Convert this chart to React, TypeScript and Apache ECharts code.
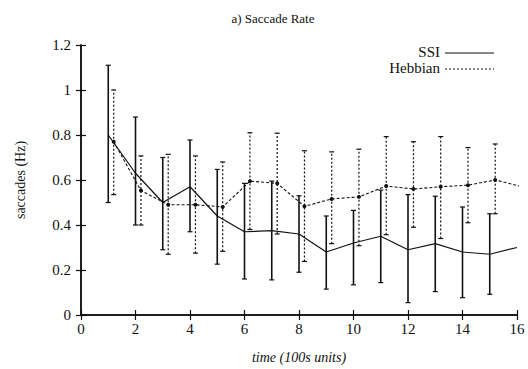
import React, { useEffect, useRef } from "react";
import * as echarts from "echarts";

const times = [1, 2, 3, 4, 5, 6, 7, 8, 9, 10, 11, 12, 13, 14, 15, 16];
const ssiMean = [0.8, 0.63, 0.5, 0.57, 0.44, 0.37, 0.375, 0.36, 0.28, 0.32, 0.35, 0.29, 0.317, 0.28, 0.27, 0.3];
const ssiLow = [0.5, 0.4, 0.29, 0.37, 0.226, 0.16, 0.156, 0.19, 0.115, 0.134, 0.144, 0.055, 0.104, 0.077, 0.092];
const ssiHigh = [1.11, 0.88, 0.7, 0.778, 0.647, 0.585, 0.595, 0.53, 0.44, 0.465, 0.555, 0.535, 0.528, 0.48, 0.45];
const hebbMean = [0.77, 0.553, 0.49, 0.49, 0.48, 0.595, 0.585, 0.483, 0.516, 0.525, 0.573, 0.56, 0.57, 0.577, 0.6, 0.57];
const hebbLow = [0.535, 0.4, 0.27, 0.275, 0.283, 0.38, 0.36, 0.238, 0.317, 0.308, 0.357, 0.39, 0.34, 0.41, 0.45];
const hebbHigh = [1.0, 0.707, 0.714, 0.707, 0.68, 0.81, 0.808, 0.73, 0.725, 0.737, 0.793, 0.77, 0.793, 0.744, 0.76];
const hebbOffset = 0.2;

const FONT = "'Liberation Serif', 'Times New Roman', serif";

function errorSeries(name: string, xs: number[], low: number[], high: number[], dashed: boolean) {
  return {
    name,
    type: "custom",
    silent: true,
    data: low.map((l, i) => [xs[i], l, high[i]]),
    renderItem: (params: any, api: any) => {
      const x = api.value(0);
      const lo = api.coord([x, api.value(1)]);
      const hi = api.coord([x, api.value(2)]);
      const cap = 2.5;
      const style = {
        stroke: "#111",
        lineWidth: dashed ? 1.2 : 1.6,
        lineDash: dashed ? [2, 2] : null,
      };
      return {
        type: "group",
        children: [
          { type: "line", shape: { x1: lo[0], y1: lo[1], x2: hi[0], y2: hi[1] }, style },
          { type: "line", shape: { x1: lo[0] - cap, y1: lo[1], x2: lo[0] + cap, y2: lo[1] }, style: { stroke: "#111", lineWidth: 1.2 } },
          { type: "line", shape: { x1: hi[0] - cap, y1: hi[1], x2: hi[0] + cap, y2: hi[1] }, style: { stroke: "#111", lineWidth: 1.2 } },
        ],
      };
    },
    z: 2,
  };
}

export default function App() {
  const ref = useRef<HTMLDivElement>(null);
  useEffect(() => {
    if (!ref.current) return;
    const chart = echarts.init(ref.current, null, { renderer: "svg" });
    const hebbX = times.map((t) => t + hebbOffset);
    const axisCommon = {
      axisLine: { show: true, lineStyle: { color: "#111", width: 1.5 } },
      axisTick: { show: true, inside: true, length: 5, lineStyle: { color: "#111", width: 1.2 } },
      splitLine: { show: false },
    };
    chart.setOption({
      animation: false,
      backgroundColor: "#fff",
      textStyle: { fontFamily: FONT },
      title: {
        text: "a) Saccade Rate",
        left: 268,
        top: 7,
        textAlign: "center",
        textStyle: { fontFamily: FONT, fontSize: 13, fontWeight: "normal", color: "#111" },
      },
      grid: { left: 81, right: 11, top: 45, bottom: 54 },
      xAxis: [
        {
          type: "value",
          min: 0,
          max: 16,
          interval: 2,
          name: "time (100s units)",
          nameLocation: "middle",
          nameGap: 35,
          nameTextStyle: { fontFamily: FONT, fontSize: 14, fontStyle: "italic", color: "#111" },
          axisLabel: { fontFamily: FONT, fontSize: 15, color: "#111", margin: 6 },
          ...axisCommon,
        },
        {
          type: "value",
          position: "top",
          min: 0,
          max: 16,
          interval: 2,
          axisLabel: { show: false },
          ...axisCommon,
        },
      ],
      yAxis: [
        {
          type: "value",
          min: 0,
          max: 1.2,
          interval: 0.2,
          name: "saccades (Hz)",
          nameLocation: "middle",
          nameGap: 54,
          nameTextStyle: { fontFamily: FONT, fontSize: 14, color: "#111" },
          axisLabel: { fontFamily: FONT, fontSize: 15, color: "#111", margin: 10 },
          ...axisCommon,
        },
        {
          type: "value",
          position: "right",
          min: 0,
          max: 1.2,
          interval: 0.2,
          axisLabel: { show: false },
          ...axisCommon,
        },
      ],
      series: [
        errorSeries("SSI err", times, ssiLow, ssiHigh, false),
        errorSeries("Hebbian err", hebbX, hebbLow, hebbHigh, true),
        {
          name: "SSI",
          type: "line",
          data: times.map((t, i) => [t, ssiMean[i]]),
          showSymbol: false,
          symbol: "none",
          lineStyle: { color: "#111", width: 1.2 },
          clip: true,
          z: 3,
        },
        {
          name: "Hebbian",
          type: "line",
          data: hebbX.map((t, i) => [t, hebbMean[i]]),
          symbol: "circle",
          symbolSize: 4,
          itemStyle: { color: "#111" },
          lineStyle: { color: "#111", width: 1.1, type: [3, 2] },
          clip: true,
          z: 3,
        },
      ],
      graphic: [
        { type: "text", right: 88, top: 44, style: { text: "SSI", font: `15px ${FONT}`, fill: "#111", textAlign: "right" } },
        { type: "line", shape: { x1: 445, y1: 53, x2: 494, y2: 53 }, style: { stroke: "#111", lineWidth: 1 } },
        { type: "text", right: 88, top: 60, style: { text: "Hebbian", font: `15px ${FONT}`, fill: "#111", textAlign: "right" } },
        { type: "line", shape: { x1: 445, y1: 69, x2: 494, y2: 69 }, style: { stroke: "#111", lineWidth: 1, lineDash: [2, 2] } },
      ],
    });
    return () => chart.dispose();
  }, []);
  return <div ref={ref} style={{ width: 528, height: 369, position: "absolute", left: 0, top: 0 }} />;
}
